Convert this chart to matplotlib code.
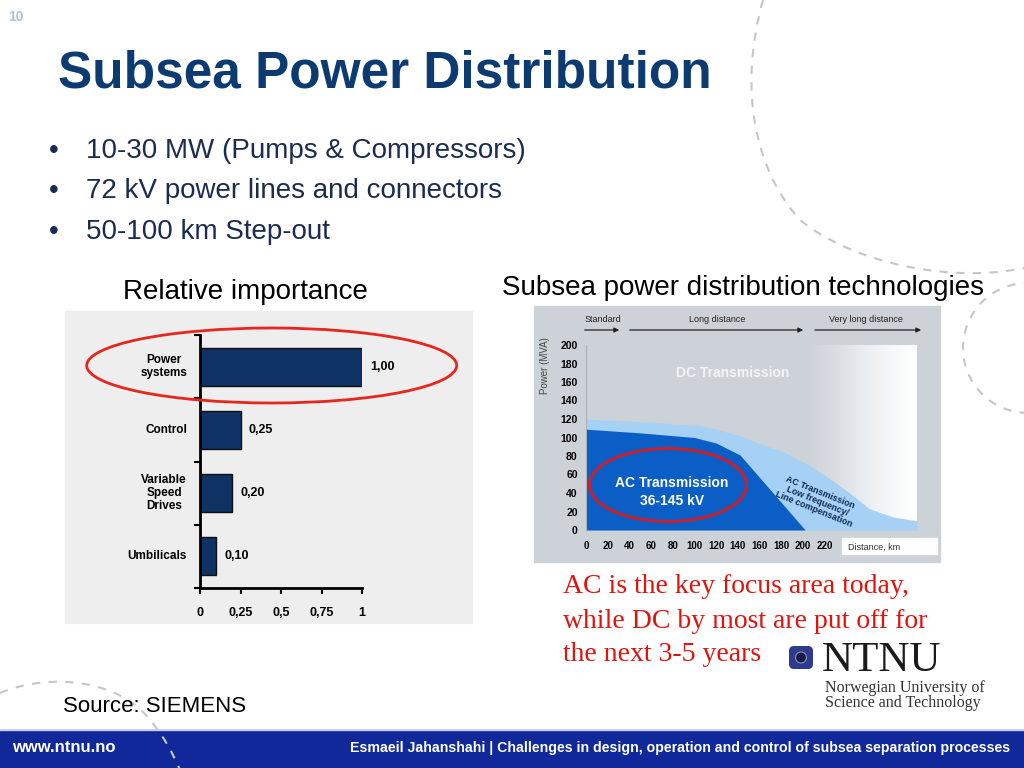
import numpy as np
import matplotlib.pyplot as plt
from matplotlib.patches import Rectangle, Ellipse, Arc, PathPatch, FancyBboxPatch, Circle
from matplotlib.path import Path
from matplotlib.colors import LinearSegmentedColormap

plt.rcParams['font.family'] = ['Liberation Sans', 'DejaVu Sans']

W, H = 1024, 768

# ── data: relative importance (left chart) ───────────────────────
categories = ['Power\nsystems', 'Control', 'Variable\nSpeed\nDrives', 'Umbilicals']
importance = [1.00, 0.25, 0.20, 0.10]
importance_labels = ['1,00', '0,25', '0,20', '0,10']
imp_ticks = [0, 0.25, 0.5, 0.75, 1]
imp_ticklabels = ['0', '0,25', '0,5', '0,75', '1']

# ── data: power vs distance (right chart) ─────────────────────────
ac_km = [0, 50, 100, 120, 142, 202]
ac_mva = [109, 105, 100, 94, 81, 0]
lf_km = [0, 52, 105, 120, 142, 163, 181, 203, 224, 243, 261, 283, 305]
lf_mva = [120, 117, 113, 109, 102, 92, 85, 72, 56, 40, 23, 14, 10]
dist_ticks = list(range(0, 221, 20))
power_ticks = list(range(0, 201, 20))

bullets = ['10-30 MW (Pumps & Compressors)',
           '72 kV power lines and connectors',
           '50-100 km Step-out']
note_lines = ['AC is the key focus area today,',
              'while DC by most are put off for',
              'the next 3-5 years']


def rect(x0, y0, x1, y1):
    return [x0 / W, 1 - y1 / H, (x1 - x0) / W, (y1 - y0) / H]


fig = plt.figure(figsize=(W / 100, H / 100), dpi=100)
ax0 = fig.add_axes([0, 0, 1, 1])
ax0.set_xlim(0, W); ax0.set_ylim(H, 0); ax0.axis('off')
px = ax0.transData  # pixel coords, y down

# ── decoration: dashed arcs ───────────────────────────────────────
dash = dict(facecolor='none', edgecolor='#c6c6c6', lw=1.5, linestyle=(0, (4, 4)), zorder=3)
arc1 = Path([(763, 0), (738, 90), (755, 170), (800, 220),
             (860, 268), (960, 282), (1024, 268)],
            [Path.MOVETO] + [Path.CURVE4] * 6)
ax0.add_patch(PathPatch(arc1, **dash))
arc2 = Path([(0, 693), (50, 672), (120, 680), (150, 720),
             (165, 738), (172, 752), (180, 770)],
            [Path.MOVETO] + [Path.CURVE4] * 6)
ax0.add_patch(PathPatch(arc2, **dash))
ax0.add_patch(Arc((1028, 348), 130, 130, theta1=90, theta2=270,
                  color='#c6c6c6', lw=1.5, linestyle=(0, (4, 4)), zorder=3))

# ── header text ───────────────────────────────────────────────────
ax0.text(16, 17, '10', fontsize=10, fontweight='bold', color='#a9c4dc', ha='center', va='center')
ax0.text(58, 87, 'Subsea Power Distribution', fontsize=37, fontweight='bold',
         color='#0b3b70', va='baseline')
for yb, line in zip([158, 198, 239], bullets):
    ax0.text(49, yb, '•', fontsize=20, color='#1c2c50', va='baseline')
    ax0.text(86, yb, line, fontsize=20, color='#1c2c50', va='baseline')

ax0.text(245, 299, 'Relative importance', fontsize=20, ha='center', va='baseline')
ax0.text(743, 295, 'Subsea power distribution technologies', fontsize=20,
         ha='center', va='baseline')

# ── chart backgrounds ─────────────────────────────────────────────
ax0.add_patch(Rectangle((65, 311), 407, 312, color='#eeeeee', zorder=1))
ax0.add_patch(Rectangle((534, 306), 406, 256, color='#cdd2d8', zorder=1))

# ── left: horizontal bars ─────────────────────────────────────────
axb = fig.add_axes(rect(200, 335, 362, 588))
axb.patch.set_alpha(0)
ypos = np.arange(len(categories))[::-1]
axb.barh(ypos, importance, height=0.6, color='#0d3263', edgecolor='#111111', lw=1)
for y, v, lab in zip(ypos, importance, importance_labels):
    axb.text(v + 0.05, y, lab, fontsize=9, fontweight='bold', va='center', ha='left')
for y, cat in zip(ypos, categories):
    axb.text(-0.08, y, cat, fontsize=8.5, fontweight='bold', va='center', ha='right',
             multialignment='center', linespacing=1.15)
axb.set_xlim(0, 1)
axb.set_ylim(-0.5, len(categories) - 0.5)
axb.set_xticks(imp_ticks)
axb.set_xticklabels(imp_ticklabels, fontsize=9, fontweight='bold')
axb.set_yticks(np.arange(-0.5, len(categories), 1.0))
axb.set_yticklabels([])
axb.tick_params(axis='both', length=4, width=1.5, direction='out')
axb.tick_params(axis='x', pad=10)
for s in ['top', 'right']:
    axb.spines[s].set_visible(False)
for s in ['left', 'bottom']:
    axb.spines[s].set_linewidth(2)
axb.add_patch(Ellipse((271.7, 365.5), 370, 75, transform=px, clip_on=False,
                      facecolor='none', edgecolor='#e8261f', lw=2, zorder=5))

# ── right: power vs distance ──────────────────────────────────────
axr = fig.add_axes(rect(586, 345, 917, 530))
axr.patch.set_alpha(0)
grad = np.linspace(0, 1, 256).reshape(1, -1)
cmap = LinearSegmentedColormap.from_list('fade', ['#cdd2d8', '#d9dde2', '#e9ecef', '#f6f7f8', '#ffffff'])
axr.imshow(grad, extent=[205, 305, 0, 200], aspect='auto', cmap=cmap, zorder=0,
           interpolation='bilinear')
axr.fill_between(lf_km, lf_mva, 0, color='#a6d1f5', lw=0, zorder=1)
axr.fill_between(ac_km, ac_mva, 0, color='#0b5ec6', lw=0, zorder=2)
axr.set_xlim(0, 305); axr.set_ylim(0, 200)
axr.set_xticks(dist_ticks)
axr.set_xticklabels([str(t) for t in dist_ticks], fontsize=7, fontweight='bold')
axr.set_yticks(power_ticks)
axr.set_yticklabels([str(t) for t in power_ticks], fontsize=7.5, fontweight='bold')
axr.tick_params(axis='both', length=0)
axr.tick_params(axis='x', pad=8)
axr.tick_params(axis='y', pad=6)
for s in ['top', 'right', 'bottom']:
    axr.spines[s].set_visible(False)
axr.spines['left'].set_color('#aab0b8')
axr.spines['left'].set_linewidth(0.8)

axr.text(733, 373, 'DC Transmission', transform=px, fontsize=10,
         fontweight='bold', color='#f2f4f6', ha='center', va='center', zorder=6)
axr.text(672, 492, 'AC Transmission\n36-145 kV', transform=px, fontsize=10, fontweight='bold',
         color='white', ha='center', va='center', linespacing=1.35, zorder=6, clip_on=False)
axr.text(817, 501, 'AC Transmission\nLow frequency/\nLine compensation', transform=px,
         fontsize=6.5, fontweight='bold', color='#102a58', ha='center', va='center',
         rotation=-22, linespacing=1.0, zorder=6, clip_on=False)
axr.add_patch(Ellipse((668, 485), 157, 73, transform=px, clip_on=False,
                      facecolor='none', edgecolor='#c8202a', lw=2.2, zorder=5))

# distance ranges above the chart
for label, xc, x0a, x1a in [('Standard', 603, 582, 622),
                            ('Long distance', 717, 627, 806),
                            ('Very long distance', 866, 812, 924)]:
    ax0.text(xc, 320, label, fontsize=6.5, color='#222222', ha='center', va='center', zorder=6)
    ax0.annotate('', xy=(x1a, 330), xytext=(x0a, 330), zorder=6,
                 arrowprops=dict(arrowstyle='-|>', color='#222222', lw=0.9, mutation_scale=7))
ax0.text(545, 366, 'Power (MVA)', fontsize=7, color='#444444', rotation=90,
         ha='center', va='center', zorder=6)
ax0.add_patch(Rectangle((842, 538), 95, 16, color='white', zorder=6))
ax0.text(848, 547, 'Distance, km', fontsize=6.5, color='#333333', va='center', zorder=7)

# ── notes, logo, source ───────────────────────────────────────────
for yb, line in zip([593, 628, 661], note_lines):
    ax0.text(563, yb, line, fontsize=20, color='#e0140f', family='Liberation Serif',
             va='baseline')
ax0.add_patch(FancyBboxPatch((789, 646), 24, 23, boxstyle='round,pad=0,rounding_size=5',
                             facecolor='#2e3a8c', edgecolor='none', zorder=4))
ax0.add_patch(Circle((801, 657.5), 5.5, facecolor='#151a45', edgecolor='#8a93c8', lw=0.8, zorder=5))
ax0.text(822, 671, 'NTNU', fontsize=31, family='Liberation Serif', color='#1b1b1b', va='baseline')
ax0.text(825, 692, 'Norwegian University of', fontsize=11.5, family='Liberation Serif',
         color='#333333', va='baseline')
ax0.text(825, 707, 'Science and Technology', fontsize=11.5, family='Liberation Serif',
         color='#333333', va='baseline')
ax0.text(63, 712, 'Source: SIEMENS', fontsize=16, va='baseline')

# ── footer ────────────────────────────────────────────────────────
ax0.add_patch(Rectangle((0, 730), W, 38, color='#10289a', zorder=2))
ax0.plot([0, W], [730, 730], color='#c8d0e8', lw=1, zorder=2)
ax0.text(12, 752, 'www.ntnu.no', fontsize=12, fontweight='bold', color='white', va='baseline', zorder=4)
ax0.text(1010, 752, 'Esmaeil Jahanshahi | Challenges in design, operation and control of subsea separation processes',
         fontsize=10.2, fontweight='bold', color='white', ha='right', va='baseline', zorder=4)

fig.savefig('out.png', dpi=100)
